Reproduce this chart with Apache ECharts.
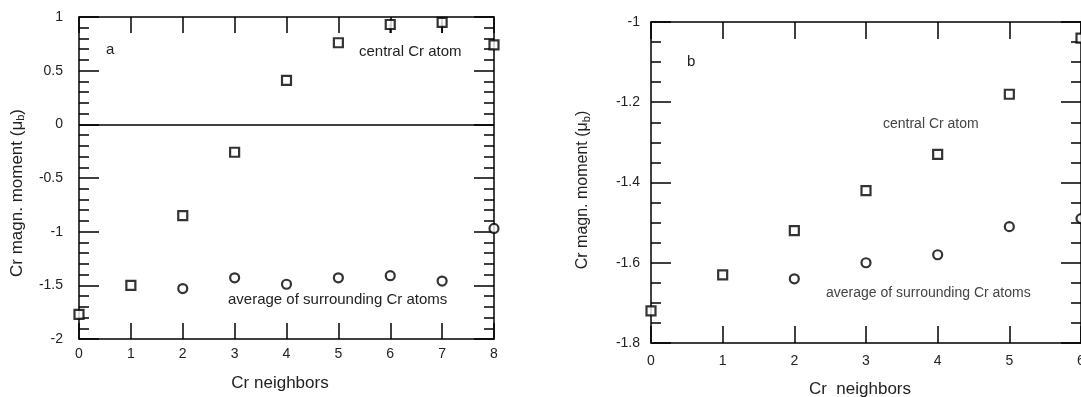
<!DOCTYPE html>
<html>
<head>
<meta charset="utf-8">
<script src="https://cdn.jsdelivr.net/npm/echarts@6.0.0/dist/echarts.min.js"></script>
<style>
html,body{margin:0;padding:0;background:#fff;overflow:hidden;}
#chart{width:1081px;height:397px;}
</style>
</head>
<body>
<div id="chart"></div>
<script>
// ---- Panel a data ----
const neighborsA = [0, 1, 2, 3, 4, 5, 6, 7, 8];
const centralA = [-1.77, -1.50, -0.85, -0.26, 0.41, 0.76, 0.93, 0.95, 0.74];
const surroundNeighborsA = [2, 3, 4, 5, 6, 7, 8];
const surroundA = [-1.53, -1.43, -1.49, -1.43, -1.41, -1.46, -0.97];
const errNeighborsA = [6, 7];
const errLowA = [0.85, 0.85];
const errHighA = [0.93, 0.95];
const yTicksA = [-2, -1.5, -1, -0.5, 0, 0.5, 1];

// ---- Panel b data ----
const neighborsB = [0, 1, 2, 3, 4, 5, 6];
const centralB = [-1.72, -1.63, -1.52, -1.42, -1.33, -1.18, -1.04];
const surroundNeighborsB = [2, 3, 4, 5, 6];
const surroundB = [-1.64, -1.60, -1.58, -1.51, -1.49];
const yTicksB = [-1.8, -1.6, -1.4, -1.2, -1];

const FONT = '"Liberation Sans", Arial, Helvetica, sans-serif';
const TXT = '#222';

const chart = echarts.init(document.getElementById('chart'), null, {renderer: 'canvas'});

function xAxisPair(gi, max, tickLen, margin) {
  const common = {
    type: 'value', gridIndex: gi, min: 0, max: max, interval: 1,
    splitLine: {show: false},
    axisLine: {show: true, onZero: false, lineStyle: {color: '#000', width: 1.5}},
    axisTick: {show: true, inside: true, length: tickLen, lineStyle: {color: '#000', width: 1.5}}
  };
  return [
    Object.assign({}, common, {position: 'bottom',
      axisLabel: {show: true, margin: margin, color: TXT, fontSize: 14, fontFamily: FONT, hideOverlap: false}}),
    Object.assign({}, common, {position: 'top', axisLabel: {show: false}})
  ];
}
function yAxisPair(gi, ticks, interval, minorSplit, margin) {
  const common = {
    type: 'value', gridIndex: gi, min: ticks[0], max: ticks[ticks.length - 1], interval: interval,
    splitLine: {show: false},
    axisLine: {show: true, onZero: false, lineStyle: {color: '#000', width: 1.5}},
    axisTick: {show: true, inside: true, length: 20, lineStyle: {color: '#000', width: 1.5}},
    minorTick: {show: true, splitNumber: minorSplit, length: 10, lineStyle: {color: '#000', width: 1.5}}
  };
  return [
    Object.assign({}, common, {position: 'left',
      axisLabel: {show: true, margin: margin, color: TXT, fontSize: 14, fontFamily: FONT,
        formatter: v => String(Math.round(v * 100) / 100)}}),
    Object.assign({}, common, {position: 'right', axisLabel: {show: false}})
  ];
}

const squareStyle = {color: '#fff', borderColor: '#000', borderWidth: 2.2};
const circleStyle = {color: '#fff', borderColor: '#000', borderWidth: 2.2};

const yName = '{a|Cr magn. moment (μ}{s|b}{a|)}';
function yNameText(x, y, size) {
  return {
    type: 'text', x: x, y: y, rotation: Math.PI / 2, z: 10,
    style: {
      text: yName, fill: TXT, align: 'center', verticalAlign: 'middle',
      textAlign: 'center', textVerticalAlign: 'middle',
      rich: {
        a: {fontSize: size, fontFamily: FONT, fill: TXT, color: TXT},
        s: {fontSize: 11, fontFamily: FONT, fill: TXT, color: TXT, padding: [8, 0, 0, 0]}
      }
    }
  };
}
function label(x, y, text, size, color, align) {
  return {
    type: 'text', x: x, y: y, z: 10,
    style: {text: text, fill: color || TXT, font: size + 'px ' + FONT,
      align: align || 'left', verticalAlign: 'middle',
      textAlign: align || 'left', textVerticalAlign: 'middle'}
  };
}

const option = {
  backgroundColor: '#fff',
  animation: false,
  grid: [
    {left: 79, top: 17, width: 415, height: 322, containLabel: false, outerBoundsMode: 'none'},
    {left: 651, top: 22, width: 430, height: 321, containLabel: false, outerBoundsMode: 'none'}
  ],
  xAxis: [].concat(xAxisPair(0, 8, 16, 8), xAxisPair(1, 6, 17, 11)),
  yAxis: [].concat(yAxisPair(0, yTicksA, 0.5, 5, 16), yAxisPair(1, yTicksB, 0.2, 4, 11)),
  series: [
    {
      type: 'scatter', xAxisIndex: 0, yAxisIndex: 0, symbol: 'rect', symbolSize: 9,
      itemStyle: squareStyle, z: 5, clip: false,
      data: neighborsA.map((x, i) => [x, centralA[i]]),
      markLine: {
        silent: true, symbol: 'none', label: {show: false},
        lineStyle: {color: '#000', width: 1.5, type: 'solid'},
        data: [{yAxis: 0}]
      }
    },
    {
      type: 'scatter', xAxisIndex: 0, yAxisIndex: 0, symbol: 'circle', symbolSize: 9,
      itemStyle: circleStyle, z: 5, clip: false,
      data: surroundNeighborsA.map((x, i) => [x, surroundA[i]])
    },
    {
      type: 'custom', xAxisIndex: 0, yAxisIndex: 0, z: 4,
      data: errNeighborsA.map((x, i) => [x, errLowA[i], errHighA[i]]),
      renderItem: function (params, api) {
        const p1 = api.coord([api.value(0), api.value(1)]);
        const p2 = api.coord([api.value(0), api.value(2)]);
        return {type: 'line', shape: {x1: p1[0], y1: p1[1], x2: p2[0], y2: p2[1]},
          style: {stroke: '#000', lineWidth: 1.5}};
      }
    },
    {
      type: 'scatter', xAxisIndex: 2, yAxisIndex: 2, symbol: 'rect', symbolSize: 9,
      itemStyle: squareStyle, z: 5, clip: false,
      data: neighborsB.map((x, i) => [x, centralB[i]])
    },
    {
      type: 'scatter', xAxisIndex: 2, yAxisIndex: 2, symbol: 'circle', symbolSize: 9,
      itemStyle: circleStyle, z: 5, clip: false,
      data: surroundNeighborsB.map((x, i) => [x, surroundB[i]])
    }
  ],
  graphic: [
    yNameText(17, 193, 17),
    yNameText(583, 190, 16),
    label(280, 383, 'Cr neighbors', 17, TXT, 'center'),
    label(860, 389, 'Cr  neighbors', 17, TXT, 'center'),
    label(106, 50, 'a', 15),
    label(687, 62, 'b', 15),
    label(359, 52, 'central Cr atom', 15),
    label(228, 300, 'average of surrounding Cr atoms', 15),
    label(883, 124, 'central Cr atom', 14, '#444'),
    label(826, 293, 'average of surrounding Cr atoms', 14, '#444')
  ]
};
chart.setOption(option);
</script>
</body>
</html>
